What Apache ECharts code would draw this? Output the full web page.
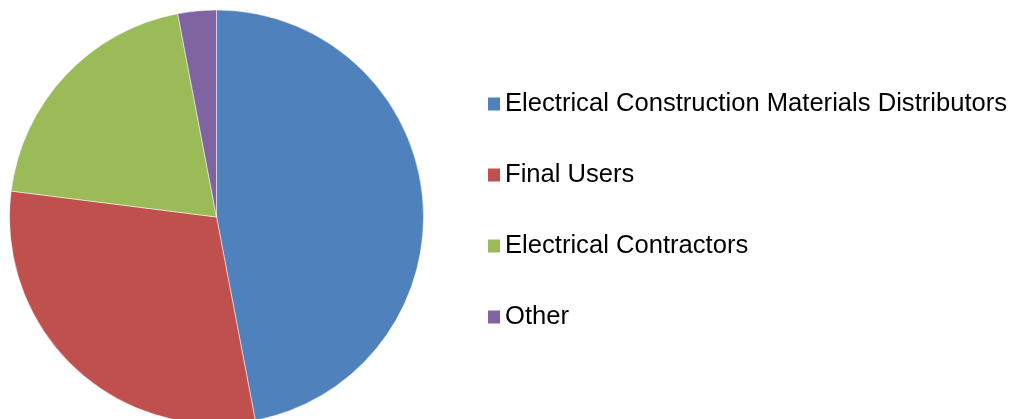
<!DOCTYPE html>
<html>
<head>
<meta charset="utf-8">
<script src="https://cdn.jsdelivr.net/npm/echarts@6/dist/echarts.min.js"></script>
<style>
html,body{margin:0;padding:0;background:#fff;}
#chart{width:1027px;height:419px;}
</style>
</head>
<body>
<div id="chart"></div>
<script>
var categories = ["Electrical Construction Materials Distributors", "Final Users", "Electrical Contractors", "Other"];
var values = [47, 30, 20, 3];
var colors = ["#4F81BD", "#C0504D", "#9BBB59", "#8064A2"];

var chart = echarts.init(document.getElementById('chart'), null, {renderer: 'canvas'});
chart.setOption({
  animation: false,
  backgroundColor: '#ffffff',
  color: colors,
  legend: {
    orient: 'vertical',
    left: 483,
    top: 86,
    padding: 5,
    icon: 'rect',
    itemWidth: 12,
    itemHeight: 13,
    itemGap: 45,
    itemTextGap: 7,
    itemStyle: {borderWidth: 0},
    data: categories,
    textStyle: {fontFamily: 'Liberation Sans, Arial, sans-serif', fontSize: 25.6, color: '#000', lineHeight: 26}
  },
  series: [{
    type: 'pie',
    center: [216.5, 217],
    radius: 207,
    startAngle: 90,
    clockwise: true,
    label: {show: false},
    labelLine: {show: false},
    itemStyle: {borderColor: '#ffffff', borderWidth: 0.5},
    emphasis: {disabled: true},
    data: categories.map(function(c, i){ return {name: c, value: values[i]}; })
  }]
});
</script>
</body>
</html>
